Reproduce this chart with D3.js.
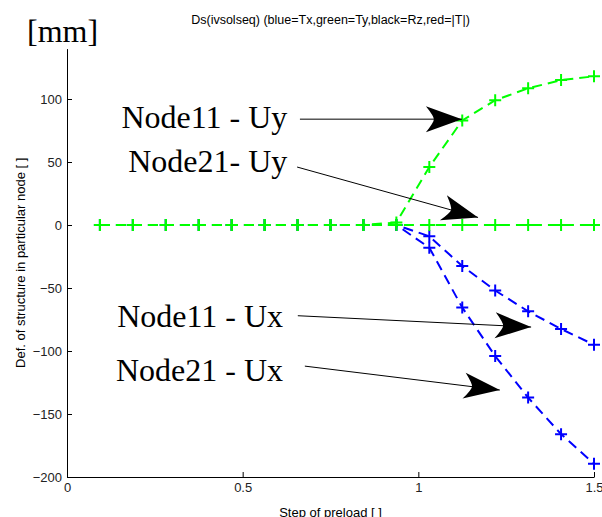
<!DOCTYPE html>
<html>
<head>
<meta charset="utf-8">
<script src="https://cdn.jsdelivr.net/npm/d3@7"></script>
<style>
  body { margin: 0; background: #fff; }
  svg { display: block; }
</style>
</head>
<body>
<svg id="chart" width="602" height="517"></svg>
<script>
// step of preload (x) and deformations per node [mm]
const steps = [0.09375, 0.1875, 0.28125, 0.375, 0.46875, 0.5625, 0.65625, 0.75,
               0.84375, 0.9375, 1.03125, 1.125, 1.21875, 1.3125, 1.40625, 1.5]
const node11Uy = [0, 0, 0, 0, 0, 0, 0, 0, 0, 2, 46, 83, 99, 108.5, 115, 118]
const node21Uy = [0, 0, 0, 0, 0, 0, 0, 0, 0, 0, 0, 0, 0, 0, 0, 0]
const node11Ux = [0, 0, 0, 0, 0, 0, 0, 0, 0, 0, -9, -32.5, -52, -68.5, -82.5, -95]
const node21Ux = [0, 0, 0, 0, 0, 0, 0, 0, 0, 0, -18, -65.5, -104, -137, -166, -189.5]

const xTicks = [0, 0.5, 1, 1.5]
const yTicks = [-200, -150, -100, -50, 0, 50, 100]

// annotation labels and arrows, in data units
const labels = ["Node11 - Uy", "Node21- Uy", "Node11 - Ux", "Node21 - Ux"]
const arrowFrom = [[0.663, 84], [0.655, 46], [0.657, -72], [0.677, -112]]
const arrowTo   = [[1.124, 84], [1.170, 6], [1.321, -81], [1.232, -131]]
const labelAt   = [[0.627, 77], [0.627, 42], [0.615, -81], [0.615, -124]]

const svg = d3.select("#chart")
const sans = "Liberation Sans, Arial, sans-serif"
const serif = "Liberation Serif, Times New Roman, serif"

const x = d3.scaleLinear().domain([0, 1.5]).range([67, 594])
const y = d3.scaleLinear().domain([-200, 140]).range([477, 48.6])

// axes (ticks pointing inwards, no box)
const xAxis = d3.axisBottom(x).tickValues(xTicks).tickFormat(d3.format("")).tickSize(-5).tickSizeOuter(0).tickPadding(8)
const yAxis = d3.axisLeft(y).tickValues(yTicks).tickSize(-5).tickSizeOuter(0).tickPadding(5)

const gx = svg.append("g").attr("transform", `translate(0,${y(-200)})`).call(xAxis)
const gy = svg.append("g").attr("transform", `translate(${x(0)},0)`).call(yAxis)
for (const g of [gx, gy]) {
  g.selectAll("text").style("font-family", sans)
   .style("font-size", "13px").attr("fill", "#222")
  g.selectAll("line, path").attr("stroke", "#000")
}
gx.selectAll("text").attr("dy", "0.5em")

// titles
svg.append("text").attr("x", (x(0) + x(1.5)) / 2).attr("y", 24)
   .attr("text-anchor", "middle").style("font-family", sans)
   .style("font-size", "12.5px").text("Ds(ivsolseq) (blue=Tx,green=Ty,black=Rz,red=|T|)")
svg.append("text").attr("x", 27).attr("y", 42)
   .style("font-family", serif)
   .style("font-size", "32px").text("[mm]")
svg.append("text").attr("transform", `translate(25,${(y(-200) + y(140)) / 2}) rotate(-90)`)
   .attr("text-anchor", "middle").style("font-family", sans)
   .style("font-size", "13px").text("Def. of structure in particular node [ ]")
svg.append("text").attr("x", (x(0) + x(1.5)) / 2).attr("y", 517)
   .attr("text-anchor", "middle").style("font-family", sans)
   .style("font-size", "13px").text("Step of preload [ ]")

// series
const series = [
  {vals: node11Ux, color: "#0000ff"},
  {vals: node21Ux, color: "#0000ff"},
  {vals: node21Uy, color: "#00ff00"},
  {vals: node11Uy, color: "#00ff00"}
]
const line = d3.line().x((d, i) => x(steps[i])).y(d => y(d))

series.forEach(s => {
  svg.append("path").datum(s.vals).attr("d", line)
     .attr("fill", "none").attr("stroke", s.color).attr("stroke-width", 2)
     .attr("stroke-dasharray", "10,6")
  svg.append("g").selectAll("path").data(s.vals).join("path")
     .attr("d", (d, i) => {
       const cx = x(steps[i]), cy = y(d), r = 6
       return `M${cx - r},${cy}H${cx + r}M${cx},${cy - r}V${cy + r}`
     })
     .attr("stroke", s.color).attr("stroke-width", 2)
})

// annotations with arrows
const head = "M0,0 L-36,-13 Q-28,-3 -28,0 Q-28,3 -36,13 Z"
labels.forEach((t, i) => {
  svg.append("text").attr("x", x(labelAt[i][0])).attr("y", y(labelAt[i][1]))
     .attr("text-anchor", "end")
     .style("font-family", serif)
     .style("font-size", "32px").text(t)
  const x1 = x(arrowFrom[i][0]), y1 = y(arrowFrom[i][1])
  const x2 = x(arrowTo[i][0]), y2 = y(arrowTo[i][1])
  const ang = Math.atan2(y2 - y1, x2 - x1) * 180 / Math.PI
  svg.append("line").attr("x1", x1).attr("y1", y1).attr("x2", x2).attr("y2", y2)
     .attr("stroke", "#000").attr("stroke-width", 1)
  svg.append("path").attr("d", head)
     .attr("transform", `translate(${x2},${y2}) rotate(${ang})`)
     .attr("fill", "#000")
})
</script>
</body>
</html>
